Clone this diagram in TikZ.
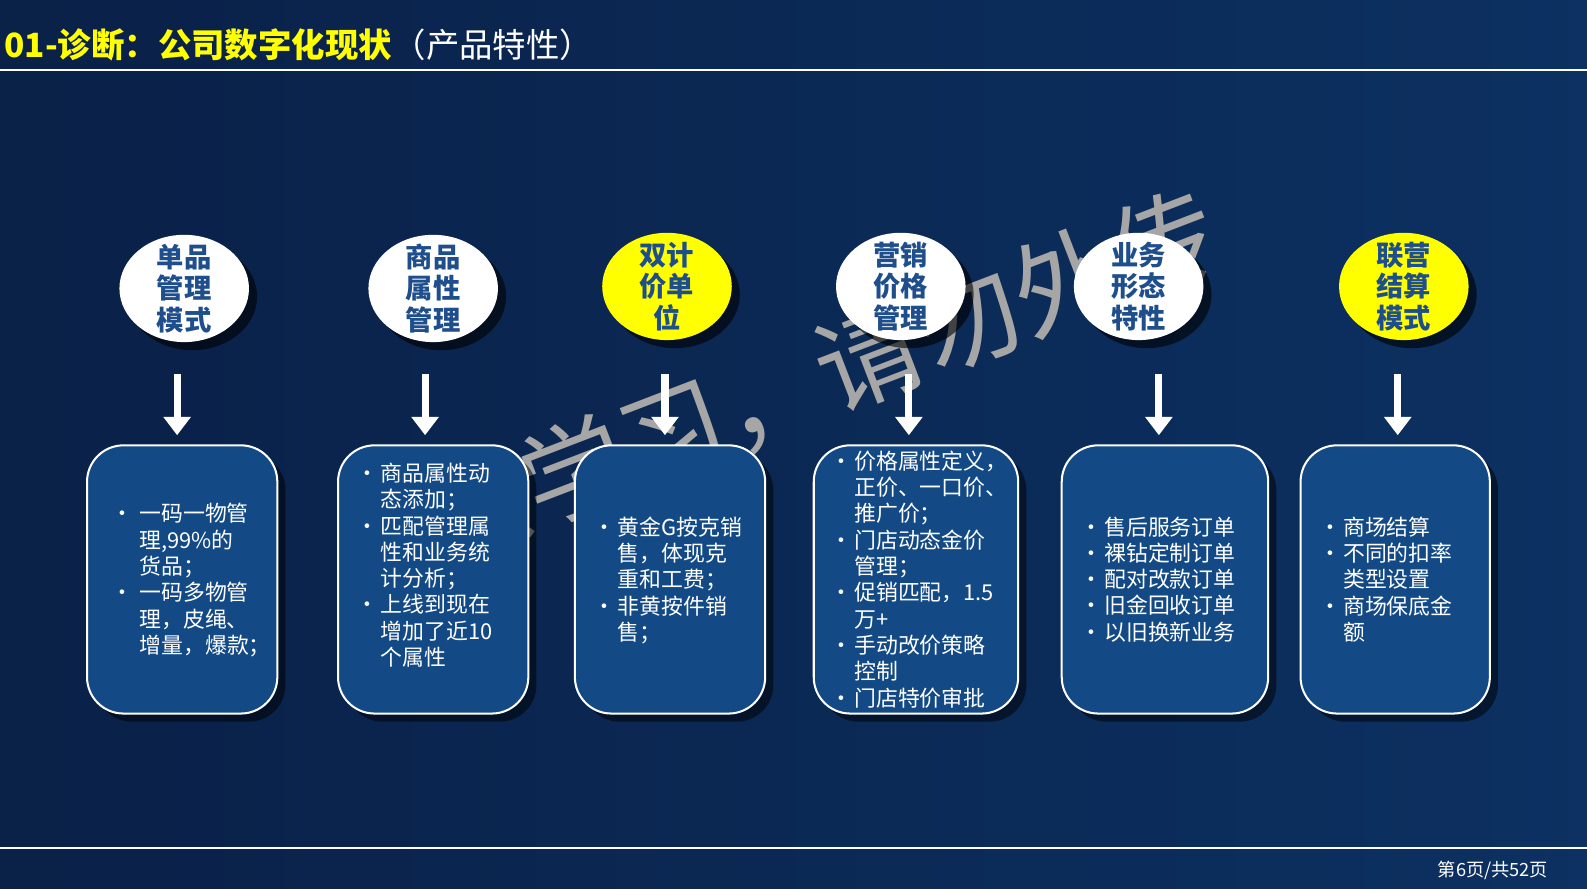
\documentclass[tikz,border=0pt]{standalone}
\usepackage{fontspec}
\setmainfont{Noto Sans CJK SC}
\usetikzlibrary{shadows,shapes.geometric,arrows.meta}
\definecolor{bgA}{HTML}{0A2148}
\definecolor{bgB}{HTML}{0E3A70}
\definecolor{boxfill}{HTML}{134A86}
\definecolor{ovtext}{HTML}{1F4E8C}
\definecolor{ttlyellow}{HTML}{FFFF00}
\newcommand{\bu}[1]{\makebox[1.1em][l]{•}#1\\}
\newcommand{\co}[1]{\hspace*{1.1em}#1\\}
\newcommand{\bw}[1]{\makebox[1.55em][l]{\hspace{0.25em}•}#1\\}
\newcommand{\cw}[1]{\hspace*{1.55em}#1\\}
\begin{document}
\begin{tikzpicture}[x=0.5pt,y=-0.5pt,
  oval/.style={ellipse,minimum width=64pt,minimum height=53pt,inner sep=0pt,draw=none,
    drop shadow={shadow xshift=4pt,shadow yshift=-4pt,opacity=0.6,fill=black}},
  ovlabel/.style={align=center,inner sep=0pt,font=\bfseries\fontsize{13.5}{15.5}\selectfont,text=ovtext},
  infobox/.style={draw=white,line width=1pt,fill=boxfill,rounded corners=18pt,
    drop shadow={shadow xshift=4pt,shadow yshift=-4pt,opacity=0.5,fill=black}},
  boxtext/.style={text=white,align=left,anchor=north west,inner sep=0pt,
    font=\fontsize{10.8}{13}\selectfont},
  downarrow/.style={draw=white,line width=3.5pt,-{Triangle[length=9pt,width=13pt]}}]
\path[use as bounding box,left color=bgA,right color=bgB] (0,0) rectangle (1568,878);
\path[top color=bgA,bottom color=bgA,opacity=0.35] (0,0) rectangle (1568,878);
\node[anchor=base west,inner sep=0pt,font=\bfseries\fontsize{16.5}{18}\selectfont,text=ttlyellow] (ttl) at (4,57) {01-诊断：公司数字化现状};
\node[anchor=base west,inner sep=0pt,font=\fontsize{16.5}{18}\selectfont,text=white] (ttl2) at (ttl.base east) {（产品特性）};
\draw[white,line width=1.2pt] (0,69) -- (1568,69);
\draw[white,line width=1.2pt] (0,838) -- (1568,838);
\node[anchor=base east,inner sep=0pt,text=white,font=\fontsize{9}{11}\selectfont] (pg) at (1530,866) {第6页/共52页};
% watermark
\node[rotate=21,text=black!35,font=\fontsize{52}{55}\selectfont,inner sep=0pt] (wm) at (810,372) {供学习，请勿外传};
% ovals
\node[oval,fill=white,label={[ovlabel]center:单品\\管理\\模式}] (o1) at (182,285) {};
\node[oval,fill=white,label={[ovlabel]center:商品\\属性\\管理}] (o2) at (428,285) {};
\node[oval,fill=ttlyellow,label={[ovlabel]center:双计\\价单\\位}] (o3) at (659,283) {};
\node[oval,fill=white,label={[ovlabel]center:营销\\价格\\管理}] (o4) at (890,283) {};
\node[oval,fill=white,label={[ovlabel]center:业务\\形态\\特性}] (o5) at (1125,283) {};
\node[oval,fill=ttlyellow,label={[ovlabel]center:联营\\结算\\模式}] (o6) at (1387,283) {};
% boxes
\foreach \n/\a/\b in {b1/86/274, b2/334/522, b3/568/756, b4/804/1006, b5/1049/1253, b6/1285/1472}
  \path[infobox] (\a,440) rectangle (\b,705);
% arrows
\foreach \x/\o in {175/o1,420/o2,657/o3,898/o4,1145/o5,1381/o6}{
  \coordinate (s\o) at (\x,370); \coordinate (e\o) at (\x,430);
  \draw[downarrow] (s\o) -- (e\o);}
\node[boxtext] (t1) at (104,497) {\bw{一码一物管}\cw{理,99\%的}\cw{货品；}\bw{一码多物管}\cw{理，皮绳、}\cw{增量，爆款；}};
\node[boxtext] (t2) at (352,457) {\bu{商品属性动}\co{态添加；}\bu{匹配管理属}\co{性和业务统}\co{计分析；}\bu{上线到现在}\co{增加了近10}\co{个属性}};
\node[boxtext] (t3) at (586,510) {\bu{黄金G按克销}\co{售，体现克}\co{重和工费；}\bu{非黄按件销}\co{售；}};
\node[boxtext] (t4) at (820,445) {\bu{价格属性定义，}\co{正价、一口价、}\co{推广价；}\bu{门店动态金价}\co{管理；}\bu{促销匹配，1.5}\co{万+}\bu{手动改价策略}\co{控制}\bu{门店特价审批}};
\node[boxtext] (t5) at (1067,510) {\bu{售后服务订单}\bu{裸钻定制订单}\bu{配对改款订单}\bu{旧金回收订单}\bu{以旧换新业务}};
\node[boxtext] (t6) at (1303,510) {\bu{商场结算}\bu{不同的扣率}\co{类型设置}\bu{商场保底金}\co{额}};
\end{tikzpicture}
\end{document}
